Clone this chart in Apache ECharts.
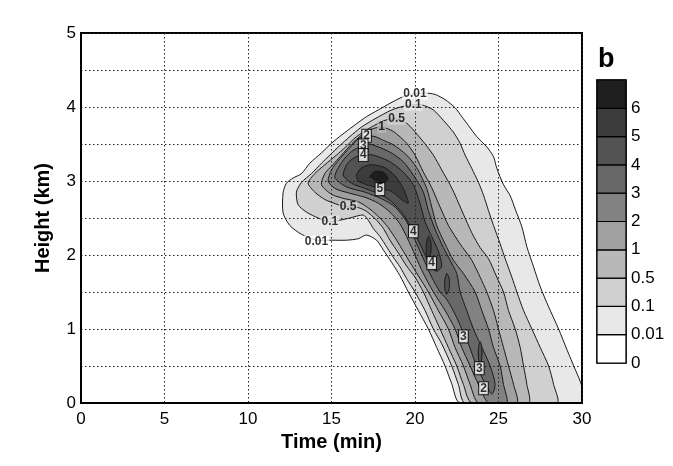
<!DOCTYPE html>
<html><head><meta charset="utf-8">
<script src="https://cdn.jsdelivr.net/npm/echarts@6/dist/echarts.min.js"></script>
<style>html,body{margin:0;padding:0;background:#fff}#c{width:673px;height:466px}</style>
</head><body><div id="c"></div>
<script>
// ---- data ----
const xTicks = [0, 5, 10, 15, 20, 25, 30];
const yTicks = [0, 1, 2, 3, 4, 5];
const levels = ['0', '0.01', '0.1', '0.5', '1', '2', '3', '4', '5', '6'];
const shades = ['#ffffff', '#e8e8e8', '#d0d0d0', '#b8b8b8', '#a0a0a0', '#828282', '#686868', '#525252', '#3c3c3c', '#1e1e1e'];

// contour outlines, [time(min), height(km)]
const c001 = [[22.7,0],[22.2,0.26],[21.8,0.5],[21.3,0.75],[20.8,1.0],[20.2,1.25],[19.6,1.5],[19.1,1.72],[18.6,1.9],[18.1,2.07],[17.7,2.2],[17.1,2.27],[16.6,2.22],[15.9,2.2],[15.0,2.2],[14.1,2.2],[13.2,2.28],[12.5,2.4],[12.1,2.57],[12.1,2.84],[12.3,2.97],[12.7,3.04],[13.2,3.1],[13.7,3.24],[14.4,3.38],[15.0,3.51],[15.6,3.62],[16.3,3.74],[17.1,3.87],[17.8,3.96],[18.5,4.05],[19.3,4.14],[20.0,4.18],[20.6,4.19],[21.2,4.17],[21.8,4.1],[22.4,3.99],[22.8,3.87],[23.2,3.75],[23.7,3.6],[24.3,3.46],[24.7,3.33],[24.9,3.17],[25.3,2.95],[25.7,2.8],[26.0,2.62],[26.4,2.38],[26.7,2.11],[27.1,1.84],[27.5,1.57],[28.0,1.3],[28.6,1.0],[29.1,0.72],[29.6,0.45],[30,0.22],[30,0]];
const c01 = [[23.0,0],[22.6,0.25],[22.2,0.5],[21.6,0.8],[21.1,1.0],[20.6,1.25],[20.0,1.5],[19.5,1.68],[19.1,1.84],[18.7,1.97],[18.3,2.11],[17.9,2.25],[17.5,2.36],[17.2,2.47],[16.9,2.54],[16.1,2.5],[15.5,2.47],[14.9,2.45],[14.2,2.5],[13.5,2.58],[13.0,2.68],[12.9,2.85],[13.2,2.98],[13.8,3.1],[14.4,3.24],[14.9,3.35],[15.5,3.48],[16.1,3.6],[16.8,3.73],[17.6,3.84],[18.6,3.96],[19.3,4.01],[19.9,4.03],[20.4,4.03],[21.1,3.96],[21.7,3.82],[22.3,3.66],[22.7,3.51],[23.0,3.35],[23.4,3.17],[23.8,2.98],[24.1,2.81],[24.4,2.6],[24.7,2.4],[25.1,2.15],[25.4,1.95],[25.8,1.7],[26.1,1.5],[26.5,1.25],[27.0,1.0],[27.5,0.75],[28.0,0.5],[28.3,0.25],[28.5,0]];
const c05 = [[23.4,0],[22.9,0.25],[22.5,0.5],[22.0,0.75],[21.5,1.0],[21.0,1.25],[20.5,1.5],[20.0,1.7],[19.5,1.85],[19.0,2.03],[18.5,2.2],[18.1,2.36],[17.7,2.47],[17.1,2.59],[16.6,2.64],[16.0,2.65],[15.4,2.68],[14.6,2.75],[14.0,2.85],[13.6,2.97],[14.0,3.1],[14.6,3.22],[15.3,3.35],[15.8,3.45],[16.5,3.6],[17.4,3.73],[18.2,3.82],[18.9,3.84],[19.5,3.78],[19.9,3.69],[20.5,3.53],[21.1,3.35],[21.6,3.15],[22.1,2.95],[22.4,2.81],[22.9,2.55],[23.4,2.3],[23.9,2.1],[24.4,1.95],[24.9,1.7],[25.3,1.5],[25.6,1.25],[26.0,1.0],[26.3,0.75],[26.5,0.5],[26.7,0.25],[26.8,0]];
const c1 = [[23.8,0],[23.3,0.25],[22.9,0.5],[22.4,0.75],[22.0,1.0],[21.4,1.25],[20.8,1.5],[20.2,1.72],[19.7,1.9],[19.3,2.05],[18.9,2.2],[18.4,2.37],[17.9,2.5],[17.3,2.62],[16.6,2.72],[15.8,2.76],[15.0,2.82],[14.4,2.95],[14.6,3.1],[15.0,3.2],[15.6,3.35],[16.2,3.5],[16.8,3.62],[17.4,3.7],[18.0,3.73],[18.7,3.67],[19.5,3.51],[20.0,3.35],[20.5,3.12],[21.0,2.91],[21.5,2.65],[22.0,2.4],[22.7,2.15],[23.4,1.93],[23.9,1.7],[24.3,1.5],[24.7,1.25],[25.0,1.0],[25.3,0.75],[25.6,0.5],[25.9,0.25],[26.1,0]];
const c2 = [[24.4,0],[23.8,0.25],[23.3,0.5],[22.8,0.75],[22.4,1.0],[21.8,1.25],[21.1,1.5],[20.5,1.75],[20.0,2.0],[19.6,2.2],[19.1,2.42],[18.5,2.58],[17.8,2.7],[17.0,2.78],[16.0,2.84],[15.2,2.9],[14.8,3.0],[15.0,3.15],[15.5,3.3],[16.1,3.45],[16.6,3.57],[17.1,3.61],[17.6,3.6],[18.1,3.55],[18.7,3.49],[19.5,3.35],[20.1,3.18],[20.7,2.9],[21.0,2.65],[21.3,2.4],[21.8,2.15],[22.3,1.93],[22.9,1.75],[23.6,1.5],[24.0,1.25],[24.4,1.0],[24.7,0.75],[25.1,0.5],[25.3,0.25],[25.5,0]];
const c3 = [[24.6,0.12],[24.0,0.35],[23.6,0.55],[23.2,0.8],[22.9,0.95],[22.4,1.2],[21.9,1.4],[21.5,1.5],[21.0,1.7],[20.6,1.9],[20.3,2.05],[20.0,2.2],[19.5,2.45],[18.8,2.65],[18.0,2.76],[17.0,2.85],[15.9,2.92],[15.2,3.05],[15.6,3.25],[16.2,3.4],[16.9,3.48],[17.3,3.5],[18.5,3.39],[19.3,3.26],[19.9,3.08],[20.5,2.85],[20.8,2.6],[21.2,2.35],[21.7,2.1],[22.1,1.93],[22.5,1.75],[22.7,1.5],[23.1,1.25],[23.5,1.0],[23.9,0.8],[24.5,0.5],[24.8,0.25]];
const c4 = [[21.3,1.78],[20.9,1.85],[20.6,2.0],[20.3,2.15],[19.9,2.32],[19.3,2.55],[18.6,2.72],[17.9,2.82],[17.0,2.9],[16.2,2.97],[15.7,3.08],[16.0,3.25],[16.5,3.33],[16.9,3.35],[17.5,3.35],[18.5,3.26],[19.3,3.12],[19.9,2.95],[20.3,2.7],[20.6,2.45],[21.0,2.25],[21.4,2.05],[21.6,1.85]];
const c4a = [[21.9,1.47],[22.05,1.55],[22.05,1.68],[21.9,1.75],[21.78,1.65],[21.8,1.52]];
const c4b = [[23.9,0.52],[24.0,0.6],[24.0,0.75],[23.9,0.83],[23.8,0.74],[23.8,0.6]];
const c5 = [[16.5,3.08],[16.8,3.18],[17.4,3.22],[18.2,3.18],[18.8,3.07],[19.3,2.9],[19.6,2.7],[19.2,2.75],[18.6,2.86],[17.9,2.9],[17.1,2.95],[16.6,3.0]];
const c5a = [[20.8,1.95],[20.95,2.03],[20.95,2.18],[20.8,2.25],[20.68,2.15],[20.68,2.02]];
const c6 = [[17.3,3.06],[17.6,3.13],[18.1,3.12],[18.4,3.03],[18.1,2.97],[17.7,3.0]];

// each outline with the level it encloses (index into levels)
const contours = [[c001,1],[c01,2],[c05,3],[c1,4],[c2,5],[c3,6],[c4,7],[c4a,7],[c4b,7],[c5,8],[c5a,8],[c6,9]];

// contour labels [text, time, height]
const plainLabels = [['0.01',20.0,4.18],['0.1',19.9,4.03],['0.5',18.9,3.84],['1',18.0,3.73],['0.5',16.0,2.65],['0.1',14.9,2.45],['0.01',14.1,2.18]];
const boxLabels = [['2',17.1,3.61],['3',16.9,3.48],['4',16.9,3.35],['5',17.9,2.89],['4',19.9,2.32],['4',21.0,1.89],['3',22.9,0.9],['3',23.85,0.47],['2',24.1,0.2]];

// ---- chart ----
const FONT = 'Liberation Sans, Arial, sans-serif';
const chart = echarts.init(document.getElementById('c'));

function polySeries(pts, lev) {
  return {
    type: 'custom', xAxisIndex: 0, yAxisIndex: 0, clip: true, silent: true, z: 1,
    data: pts,
    renderItem: function (params, api) {
      if (params.dataIndexInside !== 0) return null;
      const n = params.dataInsideLength;
      const p = [];
      for (let i = 0; i < n; i++) p.push(api.coord([api.value(0, i), api.value(1, i)]));
      return { type: 'polygon', shape: { points: p, smooth: 0.25 },
        style: { fill: shades[lev], stroke: '#1a1a1a', lineWidth: 1 } };
    }
  };
}

const series = contours.map(c => polySeries(c[0], c[1]));

series.push({
  type: 'scatter', xAxisIndex: 0, yAxisIndex: 0, z: 10, silent: true,
  symbol: 'rect', symbolSize: 1, itemStyle: { color: 'rgba(0,0,0,0)' },
  data: plainLabels.map(l => ({ name: l[0], value: [l[1], l[2]],
    label: { backgroundColor: shades[levels.indexOf(l[0]) - 1] } })),
  label: { show: true, position: 'inside', formatter: '{b}', color: '#000',
    fontFamily: FONT, fontWeight: 'bold', fontSize: 12, padding: [0, 1, 0, 1] }
});
series.push({
  type: 'scatter', xAxisIndex: 0, yAxisIndex: 0, z: 11, silent: true,
  symbol: 'rect', symbolSize: 1, itemStyle: { color: 'rgba(0,0,0,0)' },
  data: boxLabels.map(l => ({ name: l[0], value: [l[1], l[2]] })),
  label: { show: true, position: 'inside', formatter: '{b}', color: '#000',
    fontFamily: FONT, fontWeight: 'bold', fontSize: 12, lineHeight: 12,
    backgroundColor: '#fff', borderColor: '#000', borderWidth: 1, padding: [0, 1, 0, 1] }
});

// colorbar boxes
series.push({
  type: 'custom', xAxisIndex: 1, yAxisIndex: 1, silent: true, z: 2,
  data: levels.map((l, i) => [0, i]),
  renderItem: function (params, api) {
    const i = api.value(1);
    const a = api.coord([0, i]);
    const b = api.coord([1, i + 1]);
    return { type: 'rect', shape: { x: a[0], y: b[1], width: b[0] - a[0], height: a[1] - b[1] },
      style: { fill: shades[i], stroke: '#000', lineWidth: 1.2 } };
  }
});

chart.setOption({
  animation: false,
  backgroundColor: '#fff',
  grid: [
    { left: 81, right: 91, top: 33, bottom: 63, show: true, borderColor: '#000', borderWidth: 2, backgroundColor: 'transparent', z: 5 },
    { left: 597, width: 29, top: 80, height: 283, show: true, borderColor: '#000', borderWidth: 1.5 }
  ],
  xAxis: [
    { gridIndex: 0, type: 'value', min: xTicks[0], max: xTicks[xTicks.length - 1], interval: 5, z: 5,
      name: 'Time (min)', nameLocation: 'middle', nameGap: 24,
      nameTextStyle: { fontFamily: FONT, fontWeight: 'bold', fontSize: 20, color: '#000' },
      axisLine: { show: true, lineStyle: { color: '#000', width: 2 } },
      axisTick: { show: false },
      axisLabel: { fontFamily: FONT, fontSize: 17, color: '#000', margin: 8 },
      splitLine: { show: true, lineStyle: { color: '#222', width: 1, type: [1.5, 2.5] } } },
    { gridIndex: 1, type: 'value', min: 0, max: 1, show: false }
  ],
  yAxis: [
    { gridIndex: 0, type: 'value', min: yTicks[0], max: yTicks[yTicks.length - 1], interval: 0.5, z: 5,
      name: 'Height (km)', nameLocation: 'middle', nameGap: 28,
      nameTextStyle: { fontFamily: FONT, fontWeight: 'bold', fontSize: 20, color: '#000' },
      axisLine: { show: true, lineStyle: { color: '#000', width: 2 } },
      axisTick: { show: false },
      axisLabel: { fontFamily: FONT, fontSize: 17, color: '#000', margin: 5,
        formatter: v => (yTicks.indexOf(v) >= 0 ? String(v) : '') },
      splitLine: { show: true, lineStyle: { color: '#222', width: 1, type: [1.5, 2.5] } } },
    { gridIndex: 1, type: 'value', min: 0, max: levels.length, interval: 1, position: 'right',
      axisLine: { show: false }, axisTick: { show: false }, splitLine: { show: false },
      axisLabel: { fontFamily: FONT, fontSize: 17, color: '#000', margin: 5,
        formatter: v => (levels[v] !== undefined ? levels[v] : '') } }
  ],
  graphic: [
    { type: 'text', left: 598, top: 46, style: { text: 'b', fontFamily: FONT, fontWeight: 'bold', fontSize: 27, fill: '#000' } }
  ],
  series: series
});
</script>
</body></html>
